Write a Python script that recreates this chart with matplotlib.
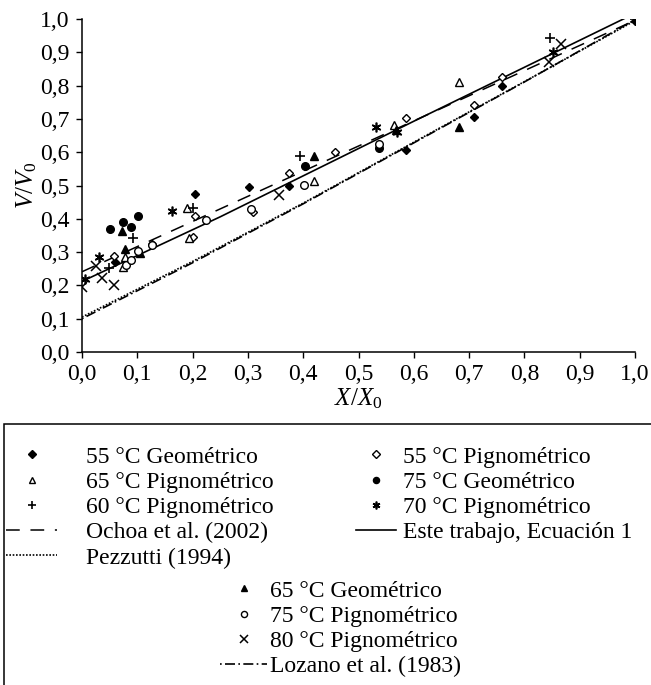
import matplotlib
matplotlib.use('Agg')
import matplotlib.pyplot as plt
from matplotlib.patches import Rectangle
from matplotlib.ticker import FuncFormatter

plt.rcParams['font.family'] = ['Liberation Serif', 'DejaVu Serif']
plt.rcParams['mathtext.fontset'] = 'custom'
plt.rcParams['mathtext.it'] = 'Liberation Serif:italic'
plt.rcParams['mathtext.rm'] = 'Liberation Serif'

# datos (X/X0, V/V0)
geo55_x = [0.060, 0.204, 0.302, 0.374, 0.586, 0.709, 0.759, 1.000]
geo55_y = [0.270, 0.473, 0.495, 0.500, 0.608, 0.705, 0.799, 0.995]

pig55_x = [0.058, 0.126, 0.205, 0.200, 0.310, 0.375, 0.458, 0.586, 0.709, 0.759]
pig55_y = [0.289, 0.325, 0.407, 0.345, 0.420, 0.537, 0.602, 0.703, 0.743, 0.825]

pig65_x = [0.075, 0.077, 0.190, 0.194, 0.420, 0.565, 0.682]
pig65_y = [0.256, 0.284, 0.432, 0.341, 0.515, 0.682, 0.810]

geo75_x = [0.051, 0.075, 0.089, 0.101, 0.403, 0.537]
geo75_y = [0.370, 0.391, 0.376, 0.409, 0.559, 0.612]

pig60_x = [0.048, 0.093, 0.200, 0.395, 0.846, 1.000]
pig60_y = [0.252, 0.342, 0.431, 0.588, 0.942, 1.000]

pig70_x = [0.005, 0.031, 0.162, 0.532, 0.570, 0.852]
pig70_y = [0.220, 0.286, 0.422, 0.677, 0.662, 0.900]

geo65_x = [0.073, 0.078, 0.105, 0.419, 0.567, 0.682]
geo65_y = [0.363, 0.308, 0.298, 0.589, 0.666, 0.677]

pig75_x = [0.080, 0.088, 0.102, 0.127, 0.224, 0.305, 0.402, 0.537]
pig75_y = [0.260, 0.277, 0.304, 0.321, 0.395, 0.428, 0.502, 0.625]

pig80_x = [0.000, 0.025, 0.037, 0.058, 0.357, 0.866, 0.845]
pig80_y = [0.195, 0.259, 0.223, 0.201, 0.470, 0.925, 0.872]

# modelos
este_x = [0.0, 0.25, 0.6, 1.0]
este_y = [0.212, 0.406, 0.693, 1.017]
ochoa_x = [0.0, 1.0]
ochoa_y = [0.241, 0.996]
pezz_x = [0.0, 0.2, 0.4, 0.6, 0.8, 1.0]
pezz_y = [0.105, 0.272, 0.447, 0.630, 0.812, 0.995]
lozano_x = [0.0, 0.2, 0.4, 0.6, 0.8, 1.0]
lozano_y = [0.100, 0.268, 0.445, 0.628, 0.811, 0.998]

W, H = 651, 685
fig = plt.figure(figsize=(W / 100, H / 100), dpi=100)
ax = fig.add_axes([82 / W, 1 - 352 / H, 553 / W, 333 / H])

k = 'black'
l_este, = ax.plot(este_x, este_y, color=k, lw=1.2, label='Este trabajo, Ecuación 1')
l_ochoa, = ax.plot(ochoa_x, ochoa_y, color=k, lw=1.1, ls=(0, (9, 7)), label='Ochoa et al. (2002)')
l_pezz, = ax.plot(pezz_x, pezz_y, color=k, lw=1.2, ls=(0, (1, 1)), label='Pezzutti (1994)')
l_loz, = ax.plot(lozano_x, lozano_y, color=k, lw=1.2, ls=(0, (1, 2, 6, 2)), label='Lozano et al. (1983)')

ms = 5
s_geo55, = ax.plot(geo55_x, geo55_y, 'D', ms=ms - 0.5, color=k, ls='none', label='55 °C Geométrico')
s_pig55, = ax.plot(pig55_x, pig55_y, 'D', ms=ms - 0.5, mfc='white', mec=k, mew=1, ls='none', label='55 °C Pignométrico')
s_pig65, = ax.plot(pig65_x, pig65_y, '^', ms=ms + 1, mfc='white', mec=k, mew=1, ls='none', label='65 °C Pignométrico')
s_geo75, = ax.plot(geo75_x, geo75_y, 'o', ms=ms + 0.5, color=k, ls='none', label='75 °C Geométrico')
s_pig60, = ax.plot(pig60_x, pig60_y, '+', ms=ms + 2, mew=1.2, color=k, ls='none', label='60 °C Pignométrico')
s_pig70, = ax.plot(pig70_x, pig70_y, marker=(6, 2, 0), ms=ms + 2, mew=1.2, color=k, ls='none', label='70 °C Pignométrico')
s_geo65, = ax.plot(geo65_x, geo65_y, '^', ms=ms + 1, color=k, ls='none', label='65 °C Geométrico')
s_pig75, = ax.plot(pig75_x, pig75_y, 'o', ms=ms + 0.5, mfc='white', mec=k, mew=1, ls='none', label='75 °C Pignométrico')
s_pig80, = ax.plot(pig80_x, pig80_y, 'x', ms=ms + 1.5, mew=1.1, color=k, ls='none', label='80 °C Pignométrico')

ax.set_xlim(0, 1.0)
ax.set_ylim(0, 1.0)
ticks = [i / 10 for i in range(11)]
ax.set_xticks(ticks)
ax.set_yticks(ticks)
fmt = FuncFormatter(lambda v, p: f'{v:.1f}'.replace('.', ','))
ax.xaxis.set_major_formatter(fmt)
ax.yaxis.set_major_formatter(fmt)
ax.tick_params(direction='out', length=4, width=1, labelsize=17, pad=5, colors=k)
for s in ['top', 'right']:
    ax.spines[s].set_visible(False)
for s in ['left', 'bottom']:
    ax.spines[s].set_linewidth(1.1)

ax.set_xlabel(r'$X/X_{\mathrm{0}}$', fontsize=18, labelpad=1)
ax.set_ylabel(r'$V/V_{\mathrm{0}}$', fontsize=18, labelpad=1)

# caja de la leyenda
fig.add_artist(Rectangle((4 / W, -0.2), 1.2, 1 - 424 / H + 0.2, transform=fig.transFigure,
                         fill=False, ec=k, lw=1.1, clip_on=False))

fs = 17
common = dict(frameon=False, fontsize=fs, labelspacing=0.16, borderpad=0, borderaxespad=0,
              handleheight=0.7, markerscale=0.8)
leg1 = fig.legend(handles=[s_geo55, s_pig65, s_pig60, l_ochoa, l_pezz], loc='upper left',
                  bbox_to_anchor=(6 / W, 1 - 446 / H), handlelength=2.16, handletextpad=1.23, **common)
leg2 = fig.legend(handles=[s_pig55, s_geo75, s_pig70, l_este], loc='upper left',
                  bbox_to_anchor=(356 / W, 1 - 446 / H), handlelength=1.7, handletextpad=0.3, **common)
leg3 = fig.legend(handles=[s_geo65, s_pig75, s_pig80, l_loz], loc='upper left',
                  bbox_to_anchor=(220 / W, 1 - 580 / H), handlelength=2.0, handletextpad=0.13, **common)

fig.savefig('out.png', dpi=100)
